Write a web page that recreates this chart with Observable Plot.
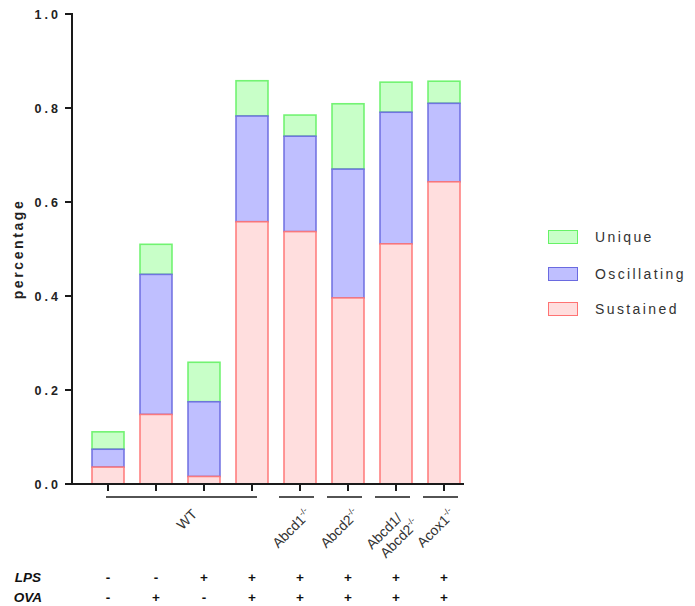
<!DOCTYPE html>
<html><head><meta charset="utf-8">
<script src="https://cdn.jsdelivr.net/npm/d3@7"></script>
<script src="https://cdn.jsdelivr.net/npm/@observablehq/plot@0.6"></script>
<style>
body{margin:0;background:#fff;}
#wrap{position:relative;width:695px;height:606px;}
.legend{position:absolute;left:548px;top:230px;font-family:"Liberation Sans",Arial,sans-serif;font-size:14px;letter-spacing:2.4px;color:#333;}
.item{position:absolute;left:0;display:flex;align-items:center;white-space:nowrap;height:14px;}
.sw{box-sizing:border-box;width:30px;height:14px;border:1.6px solid;margin-right:17px;}
</style></head><body><div id="wrap"></div>
<script>
// ---- data ----
const categories = ["WT a", "WT b", "WT c", "WT d", "Abcd1", "Abcd2", "Abcd1/Abcd2", "Acox1"];
const sustained   = [0.036, 0.148, 0.016, 0.558, 0.537, 0.396, 0.511, 0.643];
const oscillating = [0.038, 0.298, 0.159, 0.225, 0.203, 0.274, 0.280, 0.167];
const unique      = [0.037, 0.064, 0.084, 0.075, 0.045, 0.139, 0.064, 0.047];
const seriesNames = ["Sustained", "Oscillating", "Unique"];
const fills   = {Sustained: "#ffdede", Oscillating: "#bfbfff", Unique: "#c8ffc8"};
const strokes = {Sustained: "#ff7373", Oscillating: "#6a6ae0", Unique: "#66f266"};
const yTicks = [0, 0.2, 0.4, 0.6, 0.8, 1.0];
const lps = ["-", "-", "+", "+", "+", "+", "+", "+"];
const ova = ["-", "+", "-", "+", "+", "+", "+", "+"];
const groupFirst = [0, 4, 5, 6, 7];
const groupLast  = [3, 4, 5, 6, 7];
const groupLines1 = ["WT", "Abcd1", "Abcd2", "Abcd1/", "Acox1"];
const groupSup1   = ["", "-/-", "-/-", "", "-/-"];
const groupLines2 = ["", "", "", "Abcd2", ""];
const groupSup2   = ["", "", "", "-/-", ""];

// table for the stack (drawn top series first so lower borders sit on top)
const seriesValues = {Sustained: sustained, Oscillating: oscillating, Unique: unique};
const rows = [];
for (const s of ["Unique", "Oscillating", "Sustained"]) {
  categories.forEach((c, i) => rows.push({cat: c, series: s, value: seriesValues[s][i]}));
}

const labelFont = '"Liberation Sans", Arial, sans-serif';

function decorations(index, scales, values, dims) {
  const x = scales.x, y = scales.y;
  const bw = typeof x.bandwidth === "function" ? x.bandwidth() : x.bandwidth;
  const cx = c => x(c) + bw / 2;
  const x0 = dims.marginLeft;
  const y0 = y(0);
  const ink = "#1a1a1a";
  const g = d3.create("svg:g");
  // axes lines
  const xEnd = x(categories[categories.length - 1]) + bw + 4;
  g.append("line").attr("x1", x0).attr("x2", x0).attr("y1", y(1) - 1).attr("y2", y0 + 1)
    .attr("stroke", ink).attr("stroke-width", 2);
  g.append("line").attr("x1", x0 - 7).attr("x2", xEnd).attr("y1", y0).attr("y2", y0)
    .attr("stroke", ink).attr("stroke-width", 2);
  // y ticks & labels
  for (const t of yTicks) {
    g.append("line").attr("x1", x0 - 7).attr("x2", x0).attr("y1", y(t)).attr("y2", y(t))
      .attr("stroke", ink).attr("stroke-width", 2);
    g.append("text").attr("x", x0 - 11).attr("y", y(t)).attr("dy", "0.36em")
      .attr("text-anchor", "end").attr("font-family", labelFont).attr("font-weight", "bold")
      .attr("font-size", 12.5).attr("letter-spacing", 3).attr("fill", "#222")
      .text(d3.format(".1f")(t));
  }
  // y label
  g.append("text").attr("transform", `translate(23,${(y(0) + y(1)) / 2}) rotate(-90)`)
    .attr("text-anchor", "middle").attr("font-family", labelFont).attr("font-weight", "bold")
    .attr("font-size", 14).attr("letter-spacing", 2.6).attr("fill", "#222").text("percentage");
  // x ticks
  for (const c of categories) {
    g.append("line").attr("x1", cx(c)).attr("x2", cx(c)).attr("y1", y0).attr("y2", y0 + 7)
      .attr("stroke", ink).attr("stroke-width", 2);
  }
  // group lines and labels
  groupFirst.forEach((f, k) => {
    const l = groupLast[k];
    const a = cx(categories[f]), b = cx(categories[l]);
    const x1 = f === l ? a - 21 : a - 2, x2 = f === l ? b + 14 : b + 5;
    g.append("line").attr("x1", x1).attr("x2", x2).attr("y1", y0 + 13).attr("y2", y0 + 13)
      .attr("stroke", ink).attr("stroke-width", 1.5);
    const hasSup = groupSup1[k] !== "";
    const mid = categories[f === l ? f : 2];
    const ax = cx(mid) + (f === l ? (hasSup ? 12 : 11) : -6);
    const ay = y0 + 31;
    const tg = g.append("g").attr("transform", `translate(${ax},${ay}) rotate(-45)`)
      .attr("font-family", labelFont).attr("font-size", 14).attr("fill", "#333");
    const addLine = (txt, sup, dy, dx) => {
      const te = tg.append("text").attr("text-anchor", "end").attr("y", dy).attr("x", dx);
      te.append("tspan").text(txt);
      if (sup) te.append("tspan").attr("font-size", 8.5).attr("dy", -6).text(sup);
    };
    addLine(groupLines1[k], groupSup1[k], 0, groupLines2[k] ? -6 : 0);
    if (groupLines2[k]) addLine(groupLines2[k], groupSup2[k], 16, 2);
  });
  // LPS / OVA rows
  const rowsY = [y0 + 93, y0 + 113];
  [["LPS", lps], ["OVA", ova]].forEach(([name, arr], r) => {
    g.append("text").attr("x", 28).attr("y", rowsY[r]).attr("dy", "0.35em")
      .attr("font-family", labelFont).attr("font-weight", "bold").attr("font-style", "italic")
      .attr("font-size", 13.5).attr("fill", "#111").text(name);
    categories.forEach((c, i) => {
      g.append("text").attr("x", cx(c)).attr("y", rowsY[r]).attr("dy", "0.35em")
        .attr("text-anchor", "middle").attr("font-family", labelFont).attr("font-weight", "bold")
        .attr("font-size", 13.5).attr("fill", "#111").text(arr[i]);
    });
  });
  return g.node();
}

const chart = Plot.plot({
  width: 695,
  height: 606,
  marginLeft: 72,
  marginRight: 215,
  marginTop: 14,
  marginBottom: 122,
  style: {background: "#fff", overflow: "visible"},
  x: {domain: categories, padding: 0.33, axis: null},
  y: {domain: [0, 1], axis: null},
  color: {type: "identity"},
  marks: [
    Plot.barY(rows, {
      x: "cat", y: "value", z: "series", order: seriesNames,
      fill: d => fills[d.series], stroke: d => strokes[d.series],
      strokeWidth: 1.6, strokeOpacity: 0.9
    }),
    decorations
  ]
});

const wrap = document.getElementById("wrap");
wrap.appendChild(chart);

// legend
const legend = document.createElement("div");
legend.className = "legend";
const legendOrder = ["Unique", "Oscillating", "Sustained"];
const legendTops = [0, 37, 72];
legendOrder.forEach((s, i) => {
  const it = document.createElement("div");
  it.className = "item";
  it.style.top = legendTops[i] + "px";
  const sw = document.createElement("span");
  sw.className = "sw";
  sw.style.background = fills[s];
  sw.style.borderColor = strokes[s];
  const tx = document.createElement("span");
  tx.textContent = s;
  it.appendChild(sw); it.appendChild(tx);
  legend.appendChild(it);
});
wrap.appendChild(legend);
</script></body></html>
